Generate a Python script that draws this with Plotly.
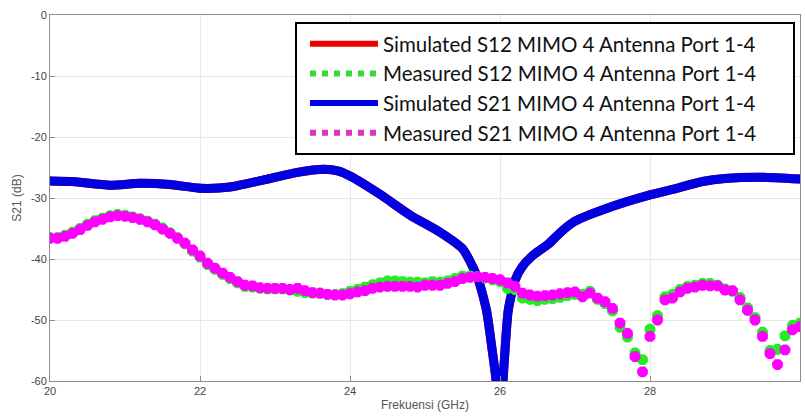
import plotly.graph_objects as go

# ---------------- data ----------------
sim_freq = [20.0, 20.3, 20.8, 21.2, 21.6, 22.0, 22.4, 22.9, 23.3, 23.65, 23.85, 24.0,
            24.4, 24.8, 25.2, 25.5, 25.7, 25.82, 25.89, 25.94, 25.98, 26.02, 26.04,
            26.07, 26.11, 26.2, 26.3, 26.45, 26.65, 26.8, 27.0, 27.4, 28.0, 28.3,
            28.7, 29.0, 29.5, 30.0]
sim_s21 = [-27.2, -27.3, -27.9, -27.6, -27.8, -28.4, -28.2, -26.9, -25.8, -25.3, -25.6, -26.4,
           -29.4, -32.8, -35.6, -38.3, -43.0, -48.4, -54.4, -59.0, -63.0, -63.0, -60.0,
           -54.4, -48.4, -43.5, -41.2, -39.3, -37.5, -35.7, -33.8, -31.8, -29.5, -28.6,
           -27.3, -26.8, -26.6, -26.9]
sim_s12 = list(sim_s21)

meas_freq = [round(20 + 0.1 * i, 1) for i in range(101)]
meas_s21 = [-36.6, -36.6, -36.3, -35.8, -35.2, -34.5, -33.9, -33.5, -33.1, -32.9,
            -33.0, -33.2, -33.5, -33.9, -34.4, -35.1, -35.8, -36.6, -37.4, -38.5,
            -39.5, -40.7, -41.5, -42.3, -43.0, -43.7, -44.3, -44.4, -44.7, -44.8,
            -44.8, -44.8, -45.0, -44.8, -45.2, -45.5, -45.6, -45.8, -45.9, -45.9,
            -45.7, -45.4, -45.2, -44.8, -44.6, -44.5, -44.5, -44.5, -44.5, -44.6,
            -44.3, -44.3, -44.3, -44.0, -43.7, -43.2, -43.0, -42.9, -43.0, -43.2,
            -43.4, -43.9, -44.5, -45.6, -45.9, -46.1, -46.0, -45.9, -45.7, -45.5,
            -45.4, -46.2, -45.6, -46.4, -47.0, -48.1, -50.5, -52.2, -56.0, -58.5,
            -52.7, -50.0, -46.7, -46.4, -45.4, -44.8, -44.6, -44.3, -44.4, -44.4,
            -45.1, -45.2, -46.7, -48.4, -50.0, -52.7, -55.5, -57.3, -54.9, -51.6,
            -51.1]
meas_s12 = [-36.5, -36.5, -36.1, -35.6, -35.0, -34.3, -33.7, -33.3, -32.9, -32.7,
            -32.8, -33.1, -33.4, -33.8, -34.3, -34.9, -35.7, -36.5, -37.5, -38.7,
            -39.7, -40.9, -41.7, -42.5, -43.2, -43.9, -44.5, -44.6, -44.8, -44.9,
            -44.9, -44.9, -45.1, -45.3, -45.5, -45.6, -45.6, -45.8, -45.8, -45.7,
            -45.3, -45.0, -44.6, -44.2, -43.9, -43.6, -43.6, -43.7, -43.8, -43.8,
            -43.9, -43.7, -43.8, -43.6, -43.2, -42.8, -42.8, -42.9, -43.1, -43.4,
            -43.7, -44.8, -45.0, -46.4, -46.6, -46.8, -46.6, -46.5, -46.3, -46.0,
            -45.8, -45.8, -45.3, -46.6, -47.3, -48.5, -51.2, -52.8, -55.4, -56.5,
            -51.5, -49.3, -46.2, -45.8, -45.0, -44.5, -44.3, -44.0, -44.0, -44.3,
            -44.9, -45.3, -46.3, -48.0, -49.6, -52.0, -55.0, -54.8, -52.6, -50.9,
            -50.5]

legend_names = ["Simulated S12 MIMO 4 Antenna Port 1-4",
                "Measured S12 MIMO 4 Antenna Port 1-4",
                "Simulated S21 MIMO 4 Antenna Port 1-4",
                "Measured S21 MIMO 4 Antenna Port 1-4"]

x_ticks = [20, 22, 24, 26, 28, 30]
y_ticks = [0, -10, -20, -30, -40, -50, -60]

# ---------------- styles ----------------
RED = "#ee0000"
GREEN = "#22ee22"
BLUE = "#0000e0"
MAGENTA = "#ff00ff"
LEG_GREEN = "#33dd33"
LEG_MAGENTA = "#dd33bb"
PAD = "\u00a0" * 6  # right padding inside legend box

fig = go.Figure()

# simulated curves (S12 hidden under S21)
fig.add_trace(go.Scatter(x=sim_freq, y=sim_s12, mode="lines",
                         line=dict(color=RED, width=9, shape="spline", smoothing=0.6),
                         showlegend=False, hoverinfo="skip"))
fig.add_trace(go.Scatter(x=sim_freq, y=sim_s21, mode="lines+markers",
                         line=dict(color=BLUE, width=9, shape="spline", smoothing=0.6),
                         marker=dict(symbol="asterisk-open", size=7, color=BLUE,
                                     line=dict(color=BLUE, width=2)),
                         showlegend=False))
# measured
fig.add_trace(go.Scatter(x=meas_freq, y=meas_s12, mode="markers",
                         marker=dict(symbol="asterisk-open", size=9, color=GREEN,
                                     line=dict(color=GREEN, width=4)),
                         showlegend=False))
fig.add_trace(go.Scatter(x=meas_freq, y=meas_s21, mode="markers",
                         marker=dict(symbol="asterisk-open", size=9, color=MAGENTA,
                                     line=dict(color=MAGENTA, width=4)),
                         showlegend=False))

# legend entries
leg_styles = [(RED, "solid"), (LEG_GREEN, "dot"), (BLUE, "solid"), (LEG_MAGENTA, "dot")]
for name, (col, dash) in zip(legend_names, leg_styles):
    fig.add_trace(go.Scatter(x=[None], y=[None], mode="lines", name=name + PAD,
                             line=dict(color=col, width=6, dash=dash),
                             showlegend=True))

axis_common = dict(
    showline=True, linecolor="#8c8c8c", linewidth=1, mirror=True,
    showgrid=True, gridcolor="#e8e8e8", gridwidth=1,
    ticks="inside", ticklen=5, tickcolor="#8c8c8c",
    tickfont=dict(family="Liberation Sans, Arial", size=11, color="#444444"),
    zeroline=False,
)

fig.update_layout(
    width=805, height=419,
    margin=dict(l=50, r=5, t=15, b=38),
    paper_bgcolor="white", plot_bgcolor="white",
    xaxis=dict(range=[20, 30], tickvals=x_ticks, ticktext=[str(v) for v in x_ticks],
               title=dict(text="Frekuensi (GHz)", standoff=4,
                          font=dict(family="Liberation Sans, Arial", size=12, color="#555555")),
               **axis_common),
    yaxis=dict(range=[-60, 0], tickvals=y_ticks, ticktext=[str(v) for v in y_ticks],
               title=dict(text="S21 (dB)", standoff=6,
                          font=dict(family="Liberation Sans, Arial", size=12, color="#555555")),
               **axis_common),
    legend=dict(x=0.9933, xanchor="right", y=0.981, yanchor="top",
                bgcolor="white", bordercolor="black", borderwidth=2,
                font=dict(family="Lato", size=20.5, color="#111111"),
                itemwidth=68, indentation=8, tracegroupgap=0),
    showlegend=True,
)

fig.write_html("out.html", config={"displayModeBar": False},
               post_script="document.body.style.margin='0';document.body.style.overflow='hidden';")
